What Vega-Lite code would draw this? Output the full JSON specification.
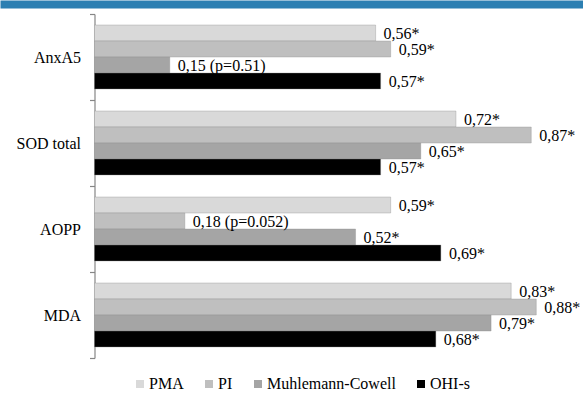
{
  "$schema": "https://vega.github.io/schema/vega-lite/v6.json",
  "width": 583,
  "height": 344,
  "autosize": {"type": "none"},
  "padding": {"top": 14, "bottom": 35, "left": 0, "right": 0},
  "background": "white",
  "config": {"view": {"stroke": null}},
  "data": {
    "values": [
      {"cat": "AnxA5", "series": "PMA", "value": 0.56, "label": "0,56*"},
      {"cat": "AnxA5", "series": "PI", "value": 0.59, "label": "0,59*"},
      {"cat": "AnxA5", "series": "Muhlemann-Cowell", "value": 0.15, "label": "0,15 (p=0.51)"},
      {"cat": "AnxA5", "series": "OHI-s", "value": 0.57, "label": "0,57*"},
      {"cat": "SOD total", "series": "PMA", "value": 0.72, "label": "0,72*"},
      {"cat": "SOD total", "series": "PI", "value": 0.87, "label": "0,87*"},
      {"cat": "SOD total", "series": "Muhlemann-Cowell", "value": 0.65, "label": "0,65*"},
      {"cat": "SOD total", "series": "OHI-s", "value": 0.57, "label": "0,57*"},
      {"cat": "AOPP", "series": "PMA", "value": 0.59, "label": "0,59*"},
      {"cat": "AOPP", "series": "PI", "value": 0.18, "label": "0,18 (p=0.052)"},
      {"cat": "AOPP", "series": "Muhlemann-Cowell", "value": 0.52, "label": "0,52*"},
      {"cat": "AOPP", "series": "OHI-s", "value": 0.69, "label": "0,69*"},
      {"cat": "MDA", "series": "PMA", "value": 0.83, "label": "0,83*"},
      {"cat": "MDA", "series": "PI", "value": 0.88, "label": "0,88*"},
      {"cat": "MDA", "series": "Muhlemann-Cowell", "value": 0.79, "label": "0,79*"},
      {"cat": "MDA", "series": "OHI-s", "value": 0.68, "label": "0,68*"}
    ]
  },
  "encoding": {
    "y": {
      "field": "cat",
      "type": "nominal",
      "sort": ["AnxA5", "SOD total", "AOPP", "MDA"],
      "scale": {"paddingInner": 0, "paddingOuter": 0},
      "axis": {
        "orient": "left",
        "offset": -94.5,
        "title": null,
        "domainColor": "#868686",
        "domainWidth": 1.2,
        "tickColor": "#868686",
        "tickWidth": 1.2,
        "tickSize": 5,
        "tickBand": "extent",
        "labelFont": "Liberation Serif",
        "labelFontSize": 16,
        "labelColor": "#000000",
        "labelPadding": 9
      }
    },
    "yOffset": {
      "field": "series",
      "type": "nominal",
      "sort": ["PMA", "PI", "Muhlemann-Cowell", "OHI-s"],
      "scale": {"paddingInner": 0, "paddingOuter": 0.6875}
    },
    "x": {
      "field": "value",
      "type": "quantitative",
      "stack": null,
      "scale": {"domain": [-0.1882, 0.9731], "nice": false, "zero": false},
      "axis": {
        "orient": "top",
        "offset": 10,
        "title": null,
        "domain": true,
        "ticks": false,
        "labels": false,
        "grid": false,
        "domainColor": "#2c7fb2",
        "domainWidth": 8,
        "domainOpacity": 1,
        "zindex": 1
      }
    }
  },
  "layer": [
    {
      "mark": {"type": "bar", "stroke": "#8c8c8c", "strokeWidth": 0.6, "strokeOpacity": 0.6},
      "encoding": {
        "color": {
          "field": "series",
          "type": "nominal",
          "sort": ["PMA", "PI", "Muhlemann-Cowell", "OHI-s"],
          "scale": {
            "domain": ["PMA", "PI", "Muhlemann-Cowell", "OHI-s"],
            "range": ["#d9d9d9", "#bfbfbf", "#a5a5a5", "#000000"]
          },
          "legend": {
            "orient": "none",
            "legendX": 132,
            "legendY": 362,
            "direction": "horizontal",
            "title": null,
            "padding": 0,
            "symbolType": "square",
            "symbolSize": 64,
            "symbolStrokeWidth": 0,
            "labelFont": "Liberation Serif",
            "labelFontSize": 16,
            "labelColor": "#000000",
            "labelOffset": 1,
            "labelLimit": 300,
            "columnPadding": 17
          }
        }
      }
    },
    {
      "mark": {
        "type": "text",
        "align": "left",
        "baseline": "middle",
        "dx": 8,
        "dy": 1,
        "font": "Liberation Serif",
        "fontSize": 16,
        "color": "#000000"
      },
      "encoding": {
        "text": {"field": "label"}
      }
    }
  ]
}
